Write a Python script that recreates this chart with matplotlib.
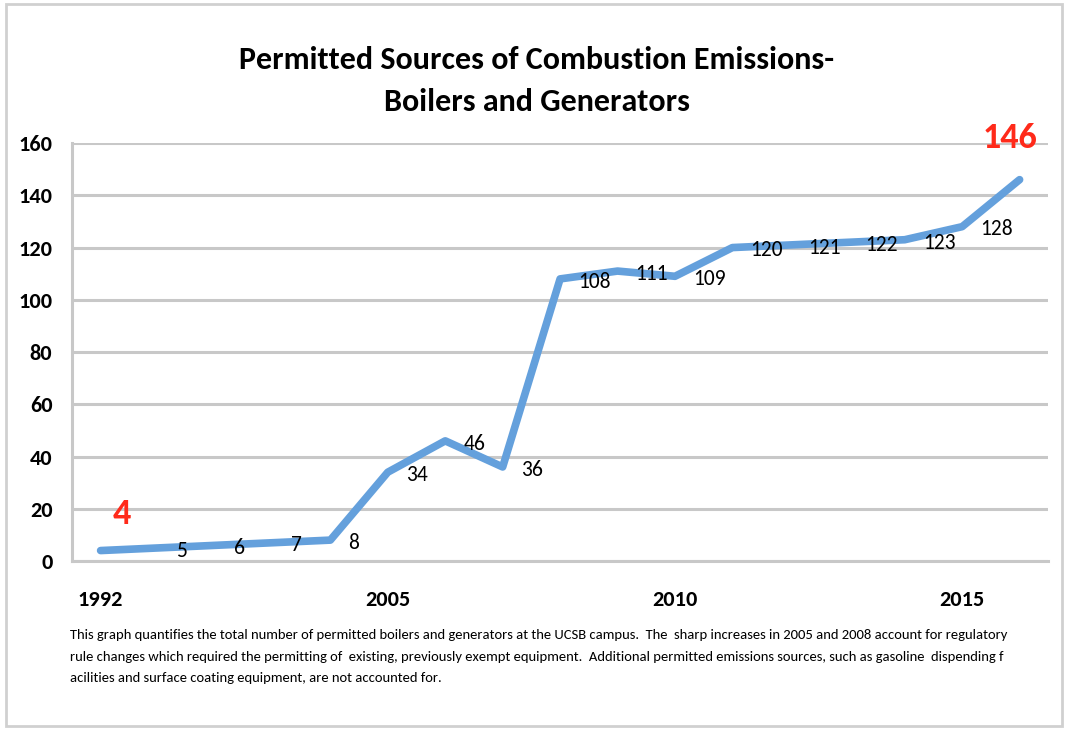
import numpy as np
import matplotlib
matplotlib.use('Agg')
import matplotlib.pyplot as plt
from matplotlib.patches import Rectangle

plt.rcParams['font.family'] = ['Carlito', 'Lato', 'DejaVu Sans']

# data
x_labels = ['1992', '', '', '', '', '2005', '', '', '', '',
            '2010', '', '', '', '', '2015', '']
counts = [4, 5, 6, 7, 8, 34, 46, 36, 108, 111, 109, 120, 121, 122, 123, 128, 146]
y_ticks = [0, 20, 40, 60, 80, 100, 120, 140, 160]

title = 'Permitted Sources of Combustion Emissions-\nBoilers and Generators'
note = ('This graph quantifies the total number of permitted boilers and generators at the UCSB campus.  '
        'The  sharp increases in 2005 and 2008 account for regulatory\n'
        'rule changes which required the permitting of  existing, previously exempt equipment.  '
        'Additional permitted emissions sources, such as gasoline  dispending f\n'
        'acilities and surface coating equipment, are not accounted for.')

fig = plt.figure(figsize=(10.73, 7.30), dpi=100)
ax = fig.add_axes([0.067, 0.2315, 0.91, 0.5725])

x = np.arange(len(counts))
ax.plot(x, counts, color='#64a0dc', lw=5.5, solid_capstyle='round', solid_joinstyle='round', zorder=3)

# value labels to the right of each point
for i in range(1, len(counts) - 1):
    ax.annotate(str(counts[i]), (x[i], counts[i]), xytext=(13, -2), textcoords='offset points',
                ha='left', va='center', fontsize=15.5, fontweight='medium', color='black')

# first and last values in red
ax.annotate(str(counts[0]), (x[0], counts[0]), xytext=(15, 26), textcoords='offset points',
            ha='center', va='center', fontsize=26, fontweight='bold', color='#ff2a1a')
ax.annotate(str(counts[-1]), (x[-1], counts[-1]), xytext=(-7, 30), textcoords='offset points',
            ha='center', va='center', fontsize=26, fontweight='bold', color='#ff2a1a')

ax.set_xlim(-0.5, 16.5)
ax.set_ylim(0, 160)
ax.set_yticks(y_ticks)
ax.set_yticklabels([str(v) for v in y_ticks], fontsize=16, fontweight='bold')
shown = [i for i, s in enumerate(x_labels) if s]
ax.set_xticks(shown)
ax.set_xticklabels([x_labels[i] for i in shown], fontsize=16, fontweight='bold')
ax.tick_params(axis='both', length=0)
ax.tick_params(axis='y', pad=14)
ax.tick_params(axis='x', pad=21)

ax.grid(axis='y', color='#c8c8c8', lw=2.2)
ax.set_axisbelow(True)
for s in ['top', 'right']:
    ax.spines[s].set_visible(False)
for s in ['left', 'bottom']:
    ax.spines[s].set_color('#c8c8c8')
    ax.spines[s].set_linewidth(2.2)

fig.text(0.5, 0.889, title, ha='center', va='center', fontsize=23, fontweight='semibold',
         linespacing=1.6)
fig.text(0.065, 0.138, note, ha='left', va='top', fontsize=10.5, linespacing=1.95)

# outer chart border
fig.patches.append(Rectangle((0.006, 0.005), 0.984, 0.99, transform=fig.transFigure,
                             fill=False, edgecolor='#d0d0d0', lw=2))

fig.savefig('out.png', dpi=100)
